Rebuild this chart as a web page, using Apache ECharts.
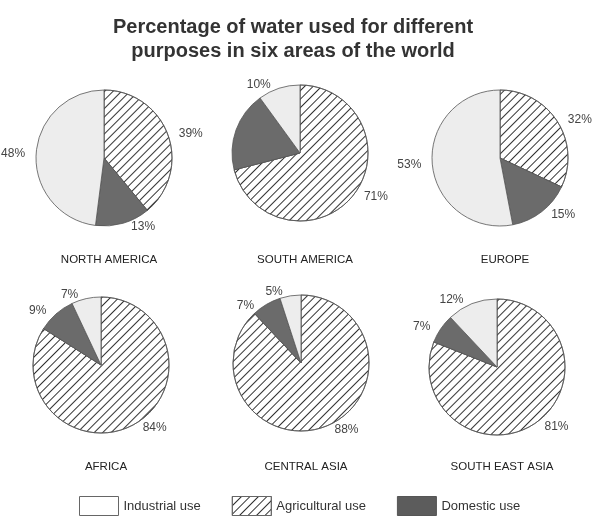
<!DOCTYPE html>
<html>
<head>
<meta charset="utf-8">
<script src="https://cdn.jsdelivr.net/npm/echarts@6/dist/echarts.min.js"></script>
<style>
  html, body { margin: 0; padding: 0; background: #fff; }
  #chart { width: 605px; height: 520px; }
</style>
</head>
<body>
<div id="chart"></div>
<script>
// data
var areas = ['NORTH AMERICA', 'SOUTH AMERICA', 'EUROPE', 'AFRICA', 'CENTRAL ASIA', 'SOUTH EAST ASIA'];
var uses = ['Industrial use', 'Agricultural use', 'Domestic use'];
var agricultural = [39, 71, 32, 84, 88, 81];
var domestic = [13, 19, 15, 9, 7, 7];
var industrial = [48, 10, 53, 7, 5, 12];

// layout of the six pies
var centers = [[104, 158], [300, 153], [500, 158], [101, 365], [301, 363], [497, 367]];
var nameY = [259, 259, 259, 466, 466, 466];

// diagonal stripes for agricultural use
var stripes = {
  symbol: 'rect', symbolSize: 1,
  dashArrayX: [1, 0], dashArrayY: [1, 4.6],
  rotation: -Math.PI / 4,
  color: '#333'
};

var myChart = echarts.init(document.getElementById('chart'));

var series = areas.map(function (a, i) {
  return {
    name: a,
    type: 'pie',
    radius: 68,
    center: centers[i],
    startAngle: 90,
    clockwise: true,
    silent: true,
    animation: false,
    label: {
      show: true, position: 'outside', formatter: '{c}%', overflow: 'none',
      color: '#444', fontSize: 12, fontFamily: 'Liberation Sans'
    },
    labelLine: {show: false, length: 4, length2: 2},
    itemStyle: {borderColor: '#555', borderWidth: 0.8},
    data: [
      {name: uses[1], value: agricultural[i], itemStyle: {color: '#fff', decal: stripes}},
      {name: uses[2], value: domestic[i], itemStyle: {color: '#6b6b6b'}},
      {name: uses[0], value: industrial[i], itemStyle: {color: '#ededed'}}
    ]
  };
});

var titles = [{
  text: 'Percentage of water used for different\npurposes in six areas of the world',
  left: 288, top: 10,
  textAlign: 'center',
  textStyle: {fontSize: 20, fontWeight: 'bold', color: '#333', lineHeight: 24, fontFamily: 'Liberation Sans'}
}];
areas.forEach(function (a, i) {
  titles.push({
    text: a, left: centers[i][0], top: nameY[i] - 10, textAlign: 'center',
    textStyle: {fontSize: 11.5, fontWeight: 'normal', color: '#222', fontFamily: 'Liberation Sans'}
  });
});

myChart.setOption({
  backgroundColor: '#fff',
  title: titles,
  legend: {
    bottom: -1, left: 74, icon: 'rect',
    itemWidth: 39, itemHeight: 19, itemGap: 31,
    data: [
      {name: uses[0], itemStyle: {color: '#fff', borderColor: '#666', borderWidth: 1}},
      {name: uses[1], itemStyle: {color: '#fff', decal: stripes, borderColor: '#666', borderWidth: 1}},
      {name: uses[2], itemStyle: {color: '#5c5c5c', borderColor: '#555', borderWidth: 1}}
    ],
    textStyle: {fontSize: 13, color: '#333', fontFamily: 'Liberation Sans'},
    selectedMode: false
  },
  series: series
});
</script>
</body>
</html>
